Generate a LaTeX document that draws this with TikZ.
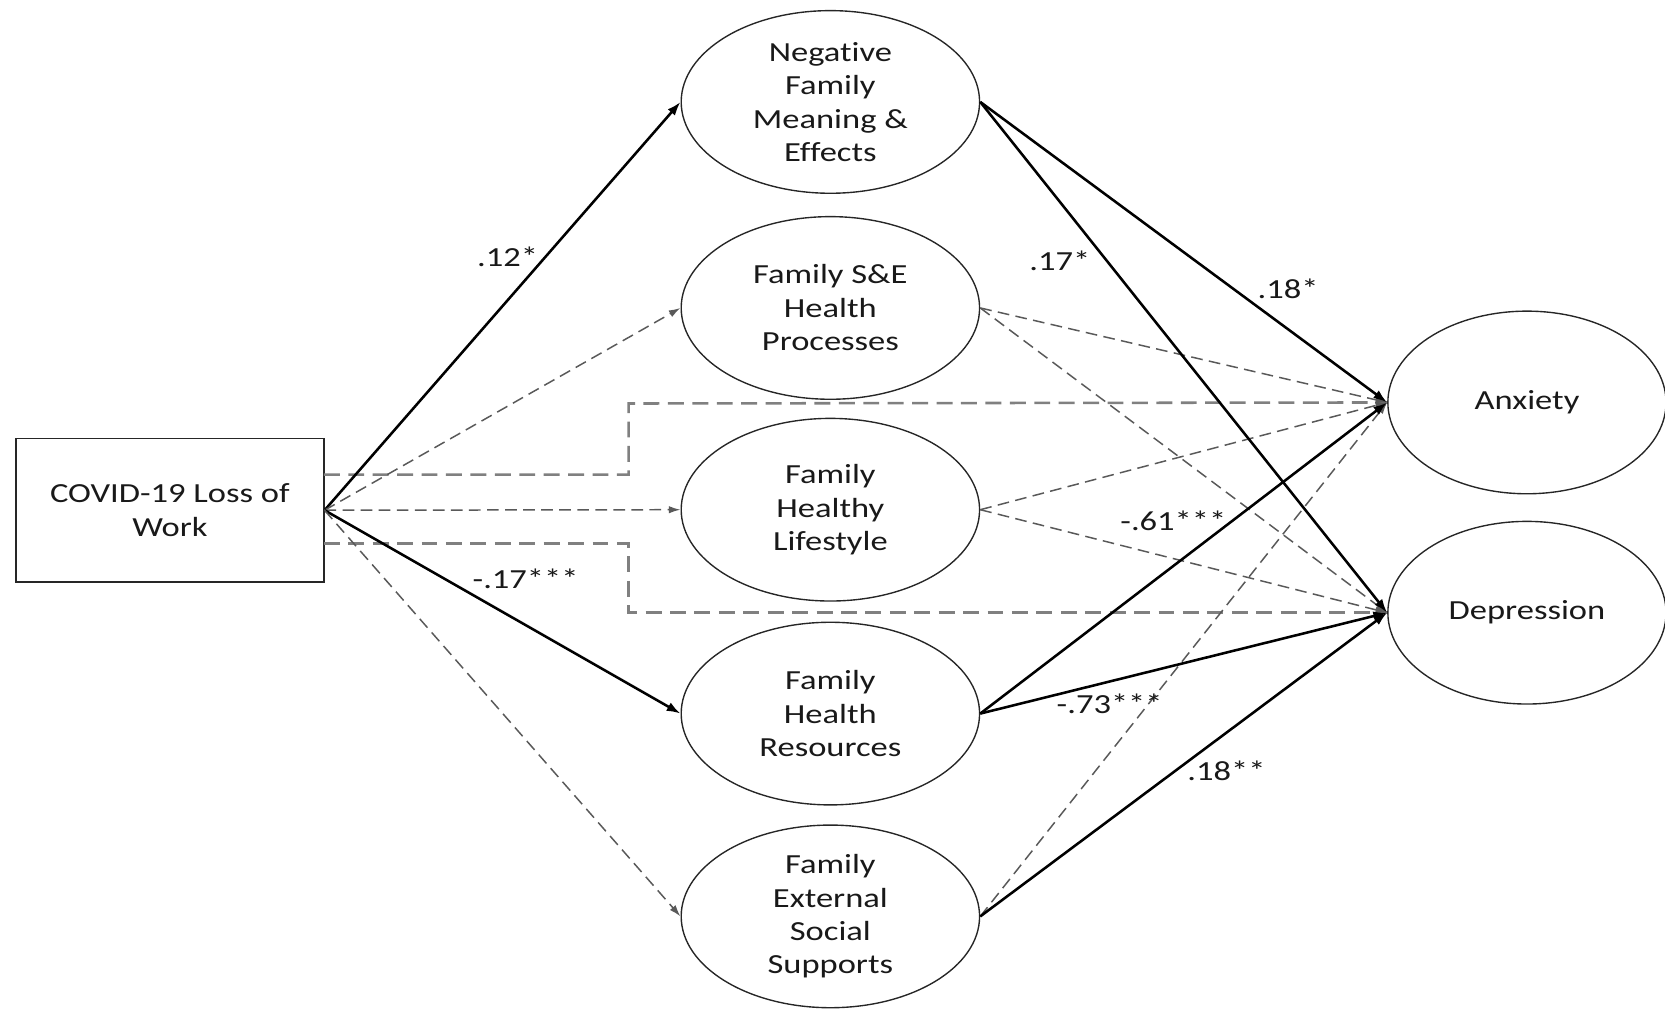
\documentclass[tikz,border=0pt]{standalone}
\usepackage{fontspec}
\setmainfont{Carlito}[FakeStretch=1.25, Ligatures={NoCommon}]
\usetikzlibrary{arrows.meta,shapes.geometric}
\begin{document}
\begin{tikzpicture}[x=1pt,y=-1pt,
  txt/.style={font=\fontsize{26}{31.5}\selectfont, text=black!90},
  lat/.style={ellipse, draw=black!85, line width=1.3pt, minimum width=281pt, minimum height=172pt, inner sep=0pt, align=center, txt},
  outc/.style={ellipse, draw=black!85, line width=1.3pt, minimum width=262pt, minimum height=172pt, inner sep=0pt, align=center, txt},
  obs/.style={rectangle, draw=black!85, line width=1.3pt, minimum width=290pt, minimum height=135pt, inner sep=0pt, align=center, txt},
  sig/.style={line width=2.4pt, black, -{Latex[length=13pt,width=9pt]}},
  ns/.style={line width=1.4pt, black!65, dash pattern=on 11pt off 6pt, -{Latex[length=11pt,width=7pt]}},
  direct/.style={line width=2.4pt, black!50, dash pattern=on 15pt off 8pt},
  lbl/.style={txt, inner sep=0pt}
]
\useasboundingbox (0,0) rectangle (1568,951);

% nodes
\node[obs] (x) at (160,480.5) {COVID-19 Loss of\\Work};
\node[lat] (m1) at (782,96) {Negative\\Family\\Meaning \&\\Effects};
\node[lat] (m2) at (782,290) {Family S\&E\\Health\\Processes};
\node[lat] (m3) at (782,480) {Family\\Healthy\\Lifestyle};
\node[lat] (m4) at (782,672) {Family\\Health\\Resources};
\node[lat] (m5) at (782,863) {Family\\External\\Social\\Supports};
\node[outc] (anx) at (1438,379) {Anxiety};
\node[outc] (dep) at (1438,577) {Depression};

\coordinate (src) at (x.east);
\coordinate (up1) at (305,447);
\coordinate (up2) at (592,447);
\coordinate (up3) at (592,380);
\coordinate (lo1) at (305,512);
\coordinate (lo2) at (592,512);
\coordinate (lo3) at (592,577);

% direct effects (non-significant)
\draw[direct] (up1) -- (up2) -- (up3) -- (anx.west);
\draw[direct] (lo1) -- (lo2) -- (lo3) -- (dep.west);

% X -> mediators
\draw[sig] (src) -- (m1.west);
\draw[ns] (src) -- (m2.west);
\draw[ns] (src) -- (m3.west);
\draw[sig] (src) -- (m4.west);
\draw[ns] (src) -- (m5.west);

% mediators -> outcomes
\draw[ns] (m2.east) -- (anx.west);
\draw[ns] (m2.east) -- (dep.west);
\draw[ns] (m3.east) -- (anx.west);
\draw[ns] (m3.east) -- (dep.west);
\draw[ns] (m5.east) -- (anx.west);
\draw[sig] (m1.east) -- (anx.west);
\draw[sig] (m1.east) -- (dep.west);
\draw[sig] (m4.east) -- (anx.west);
\draw[sig] (m4.east) -- (dep.west);
\draw[sig] (m5.east) -- (dep.west);

% labels
\node[lbl] (l1) at (478,242) {.12*};
\node[lbl] (l2) at (495,545) {-.17***};
\node[lbl] (l3) at (998,246) {.17*};
\node[lbl] (l4) at (1213,272) {.18*};
\node[lbl] (l5) at (1105,490) {-.61***};
\node[lbl] (l6) at (1045,663) {-.73***};
\node[lbl] (l7) at (1155,726) {.18**};
\end{tikzpicture}
\end{document}
